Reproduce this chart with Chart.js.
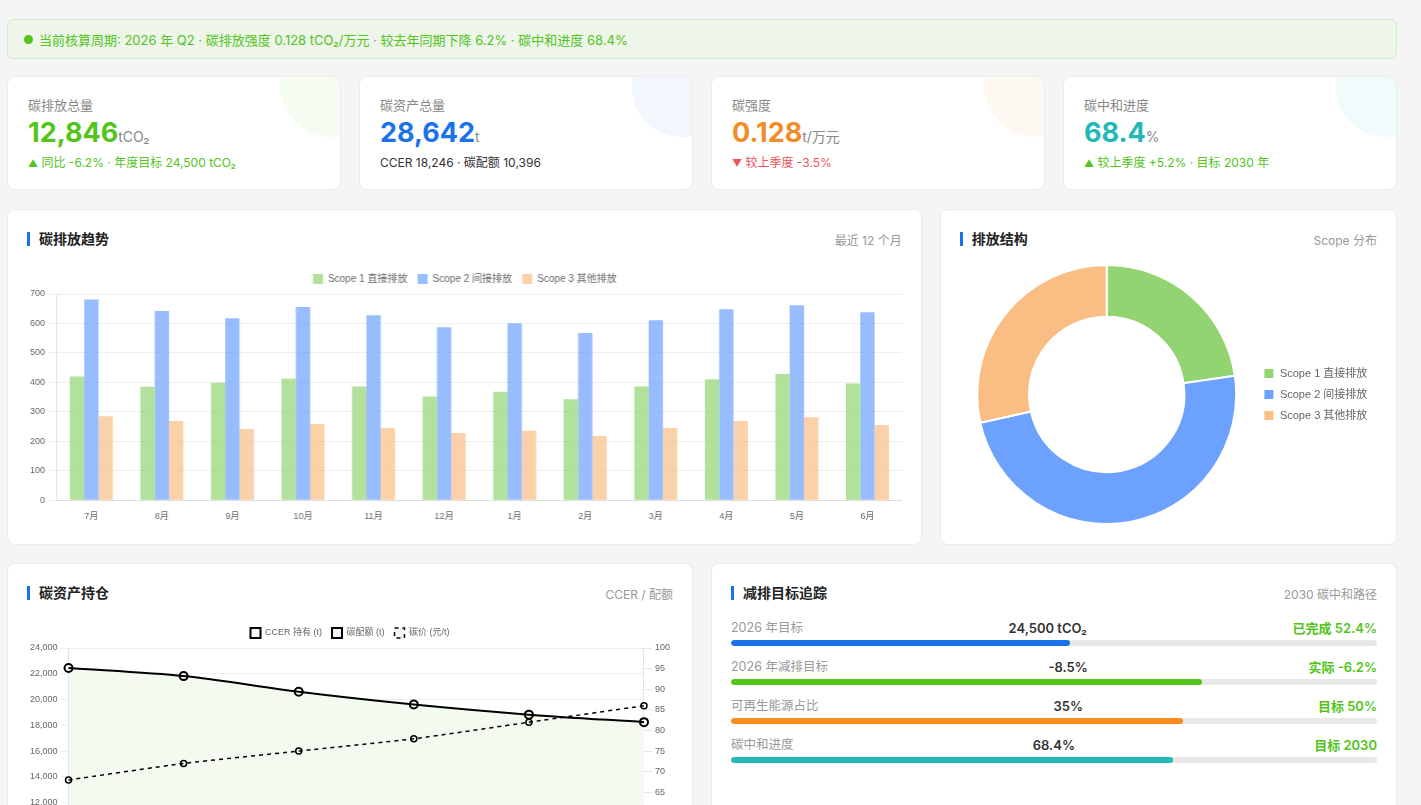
<!DOCTYPE html>
<html lang="zh-CN">
<head>
<meta charset="utf-8">
<title>碳资产看板</title>
<script src="https://cdn.jsdelivr.net/npm/chart.js"></script>
<style>
  * { box-sizing: border-box; }
  body {
    margin: 0;
    background: #f5f5f5;
    font-family: Inter, "Noto Sans CJK SC", sans-serif;
    color: #333;
  }
  .page { position: absolute; left: 7px; top: 19px; width: 1390px; }
  .banner {
    height: 40px;
    background: #eef5eb;
    border: 1px solid #d6ebcc;
    border-radius: 6px;
    display: flex;
    align-items: center;
    padding-left: 16px;
    color: #52c41a;
    font-size: 13px;
  }
  .banner .dot {
    width: 9px; height: 9px; border-radius: 50%;
    background: #52c41a; margin-right: 6px;
  }
  .kpis {
    display: grid;
    grid-template-columns: repeat(4, 1fr);
    gap: 18px;
    margin-top: 17px;
  }
  .kpi {
    position: relative;
    overflow: hidden;
    height: 114px;
    background: #fff;
    border: 1px solid #ececec;
    border-radius: 8px;
    padding: 19px 20px;
  }
  .kpi::after {
    content: "";
    position: absolute;
    width: 100px; height: 100px;
    border-radius: 50%;
    top: -40px; right: -40px;
    background: var(--tint);
  }
  .kpi .label { font-size: 13px; line-height: 18px; color: #888; }
  .kpi .value {
    margin-top: 3px;
    font-size: 27px; line-height: 32px; font-weight: 700;
    color: var(--main);
  }
  .kpi .value small { font-size: 14px; font-weight: 400; color: #888; }
  .kpi .sub { margin-top: 1px; font-size: 12px; line-height: 18px; }
  .kpi .sub i { font-style: normal; font-size: 10px; }
  .up { color: #52c41a; }
  .down { color: #f0525a; }

  .row2 {
    display: grid;
    grid-template-columns: 2fr 1fr;
    gap: 18px;
    margin-top: 19px;
  }
  .row3 {
    display: grid;
    grid-template-columns: 1fr 1fr;
    gap: 18px;
    margin-top: 18px;
  }
  .card {
    height: 336px;
    background: #fff;
    border: 1px solid #ececec;
    border-radius: 8px;
    padding: 19px 19px;
  }
  .card-head {
    display: flex;
    justify-content: space-between;
    align-items: center;
    height: 20px;
  }
  .card-head h3 {
    margin: 0;
    font-size: 14px;
    font-weight: 700;
    color: #222;
    border-left: 3px solid #1a73e8;
    padding-left: 9px;
    line-height: 14px;
  }
  .card-head span { font-size: 12px; color: #999; }
  .chart-box { position: relative; height: 261px; margin-top: 15px; }

  .targets { margin-top: 16px; }
  .t-row { margin-bottom: 12px; }
  .t-top {
    display: flex;
    justify-content: space-between;
    line-height: 18px;
    font-size: 12.5px;
  }
  .t-top .name { color: #999; }
  .t-top .val { color: #333; font-weight: 600; font-size: 13px; }
  .t-top .note { color: #52c41a; font-weight: 600; font-size: 13px; }
  .track {
    margin-top: 3px;
    height: 6px;
    background: #e8e8e8;
    border-radius: 3px;
    overflow: hidden;
  }
  .track div { height: 100%; border-radius: 3px; }
</style>
</head>
<body>
<div class="page">
  <div class="banner"><span class="dot"></span>当前核算周期: 2026 年 Q2 · 碳排放强度 0.128 tCO₂/万元 · 较去年同期下降 6.2% · 碳中和进度 68.4%</div>

  <div class="kpis">
    <div class="kpi" style="--main:#52c41a; --tint:rgba(82,196,26,0.06)">
      <div class="label">碳排放总量</div>
      <div class="value">12,846<small>tCO₂</small></div>
      <div class="sub up"><i>▲</i> 同比 -6.2% · 年度目标 24,500 tCO₂</div>
    </div>
    <div class="kpi" style="--main:#1a73e8; --tint:rgba(26,115,232,0.06)">
      <div class="label">碳资产总量</div>
      <div class="value">28,642<small>t</small></div>
      <div class="sub" style="color:#333">CCER 18,246 · 碳配额 10,396</div>
    </div>
    <div class="kpi" style="--main:#f28c28; --tint:rgba(242,140,40,0.06)">
      <div class="label">碳强度</div>
      <div class="value">0.128<small>t/万元</small></div>
      <div class="sub down"><i>▼</i> 较上季度 -3.5%</div>
    </div>
    <div class="kpi" style="--main:#22b8b8; --tint:rgba(34,184,184,0.06)">
      <div class="label">碳中和进度</div>
      <div class="value">68.4<small>%</small></div>
      <div class="sub up"><i>▲</i> 较上季度 +5.2% · 目标 2030 年</div>
    </div>
  </div>

  <div class="row2">
    <div class="card">
      <div class="card-head"><h3>碳排放趋势</h3><span>最近 12 个月</span></div>
      <div class="chart-box"><canvas id="trendChart"></canvas></div>
    </div>
    <div class="card">
      <div class="card-head"><h3>排放结构</h3><span>Scope 分布</span></div>
      <div class="chart-box"><canvas id="scopeChart"></canvas></div>
    </div>
  </div>

  <div class="row3">
    <div class="card">
      <div class="card-head"><h3>碳资产持仓</h3><span>CCER / 配额</span></div>
      <div class="chart-box"><canvas id="assetChart"></canvas></div>
    </div>
    <div class="card">
      <div class="card-head"><h3>减排目标追踪</h3><span>2030 碳中和路径</span></div>
      <div class="targets" id="targets"></div>
    </div>
  </div>
</div>

<script>
// monthly emissions (tCO2)
const months = ["7月", "8月", "9月", "10月", "11月", "12月", "1月", "2月", "3月", "4月", "5月", "6月"];
const scope1 = [420, 385, 399, 412, 386, 352, 368, 343, 386, 411, 428, 396];
const scope2 = [681, 642, 618, 656, 628, 587, 601, 568, 611, 648, 662, 638];
const scope3 = [285, 269, 242, 259, 245, 228, 236, 218, 245, 269, 282, 255];

// scope split for the donut
const scopeNames = ["Scope 1 直接排放", "Scope 2 间接排放", "Scope 3 其他排放"];
const scopeShare = [2916, 6270, 3660];

// asset holdings
const assetMonths = ["1月", "2月", "3月", "4月", "5月", "6月"];
const ccerHold = [22450, 21820, 20600, 19610, 18830, 18246];
const quotaHold = [11200, 11000, 10850, 10700, 10550, 10396];
const carbonPrice = [68, 72, 75, 78, 82, 86];

// target tracking
const targetNames = ["2026 年目标", "2026 年减排目标", "可再生能源占比", "碳中和进度"];
const targetValues = ["24,500 tCO₂", "-8.5%", "35%", "68.4%"];
const targetNotes = ["已完成 52.4%", "实际 -6.2%", "目标 50%", "目标 2030"];
const targetProgress = [52.4, 72.9, 70, 68.4];

const green = "rgb(146,212,113)";
const blue = "rgb(108,161,253)";
const orange = "rgb(250,190,133)";
const trackColors = ["#1a73e8", "#52c41a", "#fa8c1d", "#22b8b8"];

Chart.defaults.font.family = "'Helvetica Neue', Helvetica, Arial, 'Noto Sans CJK SC', sans-serif";
Chart.defaults.color = "#666";
Chart.defaults.animation = false;

// bar chart
new Chart(document.getElementById("trendChart"), {
  type: "bar",
  data: {
    labels: months,
    datasets: [
      { label: scopeNames[0], data: scope1, backgroundColor: "rgba(146,212,113,0.7)" },
      { label: scopeNames[1], data: scope2, backgroundColor: "rgba(108,161,253,0.7)" },
      { label: scopeNames[2], data: scope3, backgroundColor: "rgba(250,190,133,0.7)" },
    ],
  },
  options: {
    responsive: true,
    maintainAspectRatio: false,
    datasets: { bar: { categoryPercentage: 0.61, barPercentage: 1 } },
    plugins: {
      legend: {
        position: "top",
        labels: { boxWidth: 10, boxHeight: 10, font: { size: 10 } },
      },
      tooltip: { enabled: false },
    },
    scales: {
      x: {
        grid: { display: false },
        border: { color: "#ddd" },
        ticks: { font: { size: 9 } },
      },
      y: {
        min: 0,
        max: 700,
        ticks: { stepSize: 100, font: { size: 9 } },
        grid: { color: "#eee" },
        border: { color: "#e5e5e5" },
      },
    },
  },
});

// donut
new Chart(document.getElementById("scopeChart"), {
  type: "doughnut",
  data: {
    labels: scopeNames,
    datasets: [
      {
        data: scopeShare,
        backgroundColor: [green, blue, orange],
        borderColor: "#fff",
        borderWidth: 2,
      },
    ],
  },
  options: {
    responsive: true,
    maintainAspectRatio: false,
    cutout: "60%",
    plugins: {
      legend: {
        position: "right",
        labels: { boxWidth: 11, boxHeight: 11, font: { size: 11 } },
      },
      tooltip: { enabled: false },
    },
  },
});

// holdings + price
new Chart(document.getElementById("assetChart"), {
  type: "line",
  data: {
    labels: assetMonths,
    datasets: [
      {
        label: "CCER 持有 (t)",
        data: ccerHold,
        yAxisID: "y",
        borderColor: "#000",
        borderWidth: 2,
        backgroundColor: "#f3faef",
        fill: "+1",
        tension: 0.3,
        pointRadius: 4,
        pointBorderWidth: 2,
        pointBackgroundColor: "transparent",
      },
      {
        label: "碳配额 (t)",
        data: quotaHold,
        yAxisID: "y",
        borderColor: "#000",
        borderWidth: 2,
        backgroundColor: "#eef2fc",
        fill: "origin",
        tension: 0.3,
        pointRadius: 4,
        pointBorderWidth: 2,
        pointBackgroundColor: "transparent",
      },
      {
        label: "碳价 (元/t)",
        data: carbonPrice,
        yAxisID: "y1",
        borderColor: "#000",
        borderWidth: 1.5,
        borderDash: [4, 4],
        backgroundColor: "rgba(0,0,0,0.04)",
        fill: false,
        tension: 0.2,
        pointRadius: 3,
        pointBorderWidth: 1.5,
        pointBackgroundColor: "transparent",
      },
    ],
  },
  options: {
    responsive: true,
    maintainAspectRatio: false,
    plugins: {
      filler: { drawTime: "beforeDatasetsDraw" },
      legend: {
        position: "top",
        labels: { boxWidth: 10, boxHeight: 10, font: { size: 9 } },
      },
      tooltip: { enabled: false },
    },
    scales: {
      x: {
        grid: { display: false },
        border: { color: "#e5e5e5" },
        ticks: { font: { size: 9 } },
      },
      y: {
        position: "left",
        min: 8000,
        max: 24000,
        ticks: { stepSize: 2000, font: { size: 9 } },
        grid: { color: "#eee" },
        border: { color: "#e5e5e5" },
      },
      y1: {
        position: "right",
        min: 50,
        max: 100,
        ticks: { stepSize: 5, font: { size: 9 } },
        grid: { drawOnChartArea: false },
        border: { color: "#e5e5e5" },
      },
    },
  },
});

// progress rows
const targetBox = document.getElementById("targets");
targetNames.forEach((name, i) => {
  const row = document.createElement("div");
  row.className = "t-row";
  row.innerHTML =
    `<div class="t-top"><span class="name">${name}</span>` +
    `<span class="val">${targetValues[i]}</span>` +
    `<span class="note">${targetNotes[i]}</span></div>` +
    `<div class="track"><div style="width:${targetProgress[i]}%;background:${trackColors[i]}"></div></div>`;
  targetBox.appendChild(row);
});
</script>
</body>
</html>
